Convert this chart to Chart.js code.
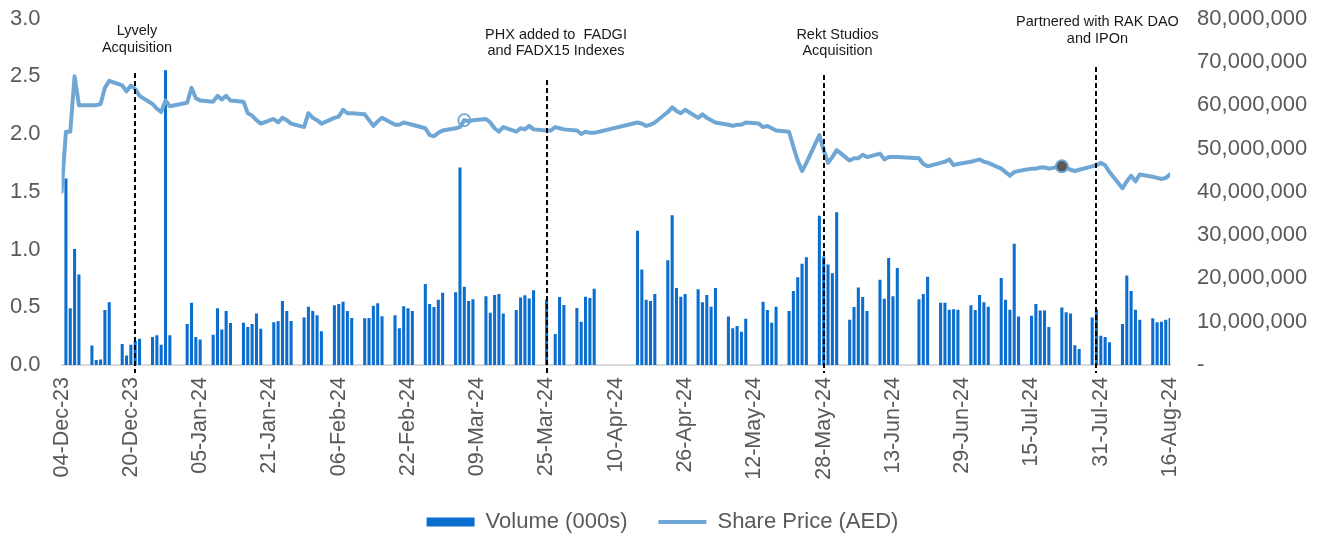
<!DOCTYPE html>
<html>
<head>
<meta charset="utf-8">
<script src="https://cdn.jsdelivr.net/npm/chart.js@4.4.1/dist/chart.umd.min.js"></script>
<style>
html,body{margin:0;padding:0;background:#ffffff;}
#wrap{width:1325px;height:537px;position:relative;}
</style>
</head>
<body>
<div id="wrap"><canvas id="c" width="1325" height="537"></canvas></div>
<script>
// ---------------- DATA ----------------
const tradeDates = [
 '2023-12-04','2023-12-05','2023-12-06','2023-12-07','2023-12-08',
 '2023-12-11','2023-12-12','2023-12-13','2023-12-14','2023-12-15',
 '2023-12-18','2023-12-19','2023-12-20','2023-12-21','2023-12-22',
 '2023-12-25','2023-12-26','2023-12-27','2023-12-28','2023-12-29',
 '2024-01-02','2024-01-03','2024-01-04','2024-01-05',
 '2024-01-08','2024-01-09','2024-01-10','2024-01-11','2024-01-12',
 '2024-01-15','2024-01-16','2024-01-17','2024-01-18','2024-01-19',
 '2024-01-22','2024-01-23','2024-01-24','2024-01-25','2024-01-26',
 '2024-01-29','2024-01-30','2024-01-31','2024-02-01','2024-02-02',
 '2024-02-05','2024-02-06','2024-02-07','2024-02-08','2024-02-09',
 '2024-02-12','2024-02-13','2024-02-14','2024-02-15','2024-02-16',
 '2024-02-19','2024-02-20','2024-02-21','2024-02-22','2024-02-23',
 '2024-02-26','2024-02-27','2024-02-28','2024-02-29','2024-03-01',
 '2024-03-04','2024-03-05','2024-03-06','2024-03-07','2024-03-08',
 '2024-03-11','2024-03-12','2024-03-13','2024-03-14','2024-03-15',
 '2024-03-18','2024-03-19','2024-03-20','2024-03-21','2024-03-22',
 '2024-03-25','2024-03-26','2024-03-27','2024-03-28','2024-03-29',
 '2024-04-01','2024-04-02','2024-04-03','2024-04-04','2024-04-05',
 '2024-04-15','2024-04-16','2024-04-17','2024-04-18','2024-04-19',
 '2024-04-22','2024-04-23','2024-04-24','2024-04-25','2024-04-26',
 '2024-04-29','2024-04-30','2024-05-01','2024-05-02','2024-05-03',
 '2024-05-06','2024-05-07','2024-05-08','2024-05-09','2024-05-10',
 '2024-05-13','2024-05-14','2024-05-15','2024-05-16','2024-05-17',
 '2024-05-20','2024-05-21','2024-05-22','2024-05-23','2024-05-24',
 '2024-05-27','2024-05-28','2024-05-29','2024-05-30','2024-05-31',
 '2024-06-03','2024-06-04','2024-06-05','2024-06-06','2024-06-07',
 '2024-06-10','2024-06-11','2024-06-12','2024-06-13','2024-06-14',
 '2024-06-19','2024-06-20','2024-06-21',
 '2024-06-24','2024-06-25','2024-06-26','2024-06-27','2024-06-28',
 '2024-07-01','2024-07-02','2024-07-03','2024-07-04','2024-07-05',
 '2024-07-08','2024-07-09','2024-07-10','2024-07-11','2024-07-12',
 '2024-07-15','2024-07-16','2024-07-17','2024-07-18','2024-07-19',
 '2024-07-22','2024-07-23','2024-07-24','2024-07-25','2024-07-26',
 '2024-07-29','2024-07-30','2024-07-31','2024-08-01','2024-08-02',
 '2024-08-05','2024-08-06','2024-08-07','2024-08-08','2024-08-09',
 '2024-08-12','2024-08-13','2024-08-14','2024-08-15','2024-08-16'
];

// Share price (AED), left axis
const sharePrice = [
 1.50,2.02,2.02,2.50,2.25,
 2.25,2.25,2.26,2.40,2.46,
 2.42,2.37,2.42,2.39,2.33,
 2.26,2.22,2.19,2.29,2.24,
 2.27,2.40,2.31,2.29,
 2.28,2.33,2.30,2.33,2.29,
 2.28,2.18,2.16,2.12,2.09,
 2.13,2.10,2.14,2.12,2.09,
 2.06,2.18,2.14,2.12,2.09,
 2.14,2.15,2.21,2.18,2.18,
 2.17,2.12,2.07,2.11,2.14,
 2.08,2.08,2.10,2.09,2.08,
 2.05,1.99,1.98,2.01,2.03,
 2.05,2.06,2.12,2.11,2.12,
 2.13,2.10,2.05,2.02,2.06,
 2.02,2.05,2.04,2.07,2.04,
 2.03,2.03,2.06,2.05,2.04,
 2.03,2.00,2.02,2.01,2.01,
 2.10,2.09,2.07,2.08,2.10,
 2.19,2.23,2.20,2.18,2.21,
 2.14,2.17,2.14,2.12,2.10,
 2.08,2.07,2.08,2.08,2.10,
 2.09,2.06,2.07,2.05,2.03,
 2.02,1.89,1.77,1.68,1.75,
 1.99,1.86,1.75,1.80,1.86,
 1.77,1.79,1.79,1.82,1.80,
 1.83,1.78,1.80,1.80,1.80,
 1.79,1.74,1.72,
 1.75,1.76,1.78,1.73,1.74,
 1.76,1.77,1.78,1.76,1.75,
 1.70,1.67,1.64,1.67,1.68,
 1.70,1.70,1.71,1.71,1.70,
 1.72,1.71,1.69,1.68,1.69,
 1.72,1.73,1.75,1.73,1.67,
 1.53,1.59,1.64,1.59,1.65,
 1.63,1.62,1.61,1.62,1.65
];

// Volume in millions of shares, right axis (null = no bar shown)
const volumeMillions = [
 null,43.0,13.0,26.7,20.8,
 4.4,1.1,1.2,12.6,14.4,
 4.8,2.1,4.6,5.5,6.0,
 6.4,6.8,4.6,68.0,6.8,
 9.4,14.3,6.4,5.8,
 6.9,13.0,8.1,12.4,9.6,
 9.7,8.7,9.4,11.8,8.3,
 9.8,10.0,14.7,12.4,10.1,
 10.9,13.4,12.4,11.4,7.7,
 13.7,14.0,14.5,12.4,10.8,
 10.7,10.8,13.6,14.2,11.2,
 11.4,8.4,13.5,13.0,12.4,
 18.6,14.0,13.3,15.0,16.6,
 16.7,45.5,18.0,14.7,15.1,
 15.8,12.0,16.1,16.3,11.8,
 12.6,15.5,16.0,15.3,17.2,
 15.0,null,7.1,15.6,13.8,
 13.1,9.9,15.7,15.4,17.5,
 30.9,22.0,15.0,14.7,16.3,
 24.1,34.5,17.7,15.7,16.3,
 17.4,14.4,16.1,13.4,17.7,
 11.1,8.4,8.9,7.6,10.6,
 null,14.5,12.6,9.7,13.4,
 12.4,17.0,20.2,23.3,24.8,
 34.4,25.0,23.1,21.1,35.2,
 10.4,13.3,17.8,15.6,12.4,
 19.6,15.2,24.6,15.8,22.3,
 15.1,16.3,20.3,
 14.3,14.3,12.7,12.8,12.7,
 13.7,12.6,16.1,14.4,13.4,
 20.0,15.0,12.7,27.9,11.1,
 11.3,14.0,12.5,12.5,8.7,
 13.2,12.1,11.8,4.5,3.6,
 10.9,12.7,6.7,6.4,5.2,
 9.4,20.6,17.0,12.7,10.4,
 10.7,9.8,9.9,10.4,10.8
];

const tickLabels = ['04-Dec-23','20-Dec-23','05-Jan-24','21-Jan-24','06-Feb-24','22-Feb-24',
 '09-Mar-24','25-Mar-24','10-Apr-24','26-Apr-24','12-May-24','28-May-24','13-Jun-24',
 '29-Jun-24','15-Jul-24','31-Jul-24','16-Aug-24'];

const leftTicks = [0, 0.5, 1.0, 1.5, 2.0, 2.5, 3.0];
const rightTicksM = [0, 10, 20, 30, 40, 50, 60, 70, 80];

const eventDates = ['2023-12-21', '2024-03-25', '2024-05-28', '2024-07-30'];
const eventTexts = [
 ['Lyvely', 'Acquisition'],
 ['PHX added to  FADGI', 'and FADX15 Indexes'],
 ['Rekt Studios', 'Acquisition'],
 ['Partnered with RAK DAO', 'and IPOn']
];

const markerDates = ['2024-03-06', '2024-07-22'];
const markerKinds = ['open', 'filled'];

const seriesNames = ['Volume (000s)', 'Share Price (AED)'];

// ---------------- HELPERS ----------------
const MONTHS = {Jan:0,Feb:1,Mar:2,Apr:3,May:4,Jun:5,Jul:6,Aug:7,Sep:8,Oct:9,Nov:10,Dec:11};
function parseTick(lbl){ const p = lbl.split('-'); return Date.UTC(2000 + Number(p[2]), MONTHS[p[1]], Number(p[0])); }
const BASE = parseTick(tickLabels[0]);
function dayOfIso(iso){ const p = iso.split('-').map(Number); return (Date.UTC(p[0], p[1]-1, p[2]) - BASE) / 86400000; }
function dayOfTick(lbl){ return (parseTick(lbl) - BASE) / 86400000; }

const BAR_COLOR = '#0B6ECE';
const LINE_COLOR = '#6FA6D4';
const TEXT_GREY = '#595959';
const FONT = '"Liberation Sans", Arial, Helvetica, sans-serif';

const markerMap = {};
markerDates.forEach((d, i) => { markerMap[dayOfIso(d)] = markerKinds[i]; });

const priceData = tradeDates.map((d, i) => ({x: dayOfIso(d), y: sharePrice[i]}));
const volData = tradeDates.map((d, i) => ({x: dayOfIso(d), y: volumeMillions[i]})).filter(p => p.y !== null);

// annotation styling (pixel layout, not data)
const eventStyle = [
 {dx: 2,   lineTop: 73, textY: 31},
 {dx: 9,   lineTop: 80, textY: 34.5},
 {dx: 13.5,lineTop: 75, textY: 34.5},
 {dx: 1.5, lineTop: 67, textY: 22}
];

const eventPlugin = {
  id: 'eventLines',
  afterDatasetsDraw(chart) {
    const ctx = chart.ctx, xs = chart.scales.x, area = chart.chartArea;
    ctx.save();
    eventDates.forEach((d, i) => {
      const st = eventStyle[i];
      const px = Math.round(xs.getPixelForValue(dayOfIso(d)));
      ctx.beginPath();
      ctx.setLineDash([5, 3]);
      ctx.lineWidth = 2;
      ctx.strokeStyle = '#000000';
      ctx.moveTo(px, st.lineTop);
      ctx.lineTo(px, area.bottom + 8);
      ctx.stroke();
      ctx.setLineDash([]);
      ctx.fillStyle = '#1a1a1a';
      ctx.font = '14.5px ' + FONT;
      ctx.textAlign = 'center';
      ctx.textBaseline = 'middle';
      eventTexts[i].forEach((t, j) => ctx.fillText(t, px + st.dx, st.textY + j * 16.5));
    });
    ctx.restore();
  }
};

Chart.defaults.font.family = FONT;
Chart.defaults.color = TEXT_GREY;

new Chart(document.getElementById('c'), {
  type: 'bar',
  data: {
    datasets: [
      {
        type: 'line',
        label: seriesNames[1],
        data: priceData,
        yAxisID: 'y',
        borderColor: LINE_COLOR,
        borderWidth: 4,
        tension: 0,
        borderJoinStyle: 'round',
        borderCapStyle: 'round',
        spanGaps: true,
        order: 0,
        pointRadius: c => (c.raw && markerMap[c.raw.x]) ? 6 : 0,
        pointHoverRadius: 0,
        pointBackgroundColor: c => (c.raw && markerMap[c.raw.x] === 'filled') ? '#595959' : 'rgba(255,255,255,0)',
        pointBorderColor: LINE_COLOR,
        pointBorderWidth: c => (c.raw && markerMap[c.raw.x] === 'filled') ? 2 : 1.8
      },
      {
        type: 'bar',
        label: seriesNames[0],
        data: volData,
        yAxisID: 'y2',
        backgroundColor: BAR_COLOR,
        borderWidth: 0,
        barThickness: 2.4,
        order: 1
      }
    ]
  },
  options: {
    responsive: false,
    animation: false,
    devicePixelRatio: 1,
    events: [],
    layout: { padding: { top: 18.5, left: 0, right: 0, bottom: 0 } },
    plugins: {
      tooltip: { enabled: false },
      legend: {
        display: true,
        position: 'bottom',
        maxHeight: 57,
        labels: {
          usePointStyle: true,
          pointStyleWidth: 48,
          boxHeight: 9,
          padding: 31,
          font: { size: 22, family: FONT },
          color: TEXT_GREY,
          generateLabels: () => [
            { text: seriesNames[0], fillStyle: BAR_COLOR, strokeStyle: BAR_COLOR, lineWidth: 0, pointStyle: 'rect', fontColor: TEXT_GREY, datasetIndex: 1 },
            { text: seriesNames[1], fillStyle: LINE_COLOR, strokeStyle: LINE_COLOR, lineWidth: 4, pointStyle: 'line', fontColor: TEXT_GREY, datasetIndex: 0 }
          ]
        }
      }
    },
    scales: {
      x: {
        type: 'linear',
        position: 'bottom',
        offset: false,
        min: dayOfTick(tickLabels[0]),
        max: dayOfTick(tickLabels[tickLabels.length - 1]),
        afterBuildTicks: s => { s.ticks = tickLabels.map(l => ({ value: dayOfTick(l) })); },
        afterFit: s => { s.height = 115; s.paddingLeft = 0; s.paddingRight = 0; },
        grid: { display: false, drawTicks: false },
        border: { display: true, color: '#D9D9D9', width: 2 },
        ticks: {
          autoSkip: false,
          maxRotation: 90,
          minRotation: 90,
          padding: 12,
          color: TEXT_GREY,
          font: { size: 21.5, family: FONT },
          callback: (v, i) => tickLabels[i]
        }
      },
      y: {
        type: 'linear',
        position: 'left',
        min: leftTicks[0],
        max: leftTicks[leftTicks.length - 1],
        afterBuildTicks: s => { s.ticks = leftTicks.map(v => ({ value: v })); },
        afterFit: s => { s.width = 61.6; s.paddingTop = 0; s.paddingBottom = 0; },
        grid: { display: false, drawTicks: false },
        border: { display: false },
        ticks: {
          padding: 21,
          color: TEXT_GREY,
          font: { size: 22, family: FONT },
          callback: v => Number(v).toFixed(1)
        }
      },
      y2: {
        type: 'linear',
        position: 'right',
        min: rightTicksM[0],
        max: rightTicksM[rightTicksM.length - 1],
        afterBuildTicks: s => { s.ticks = rightTicksM.map(v => ({ value: v })); },
        afterFit: s => { s.width = 154.9; s.paddingTop = 0; s.paddingBottom = 0; },
        grid: { display: false, drawTicks: false },
        border: { display: false },
        ticks: {
          padding: 27,
          color: TEXT_GREY,
          font: { size: 22, family: FONT },
          callback: v => v === 0 ? '-' : (v * 1000000).toLocaleString('en-US')
        }
      }
    }
  },
  plugins: [eventPlugin]
});
</script>
</body>
</html>
